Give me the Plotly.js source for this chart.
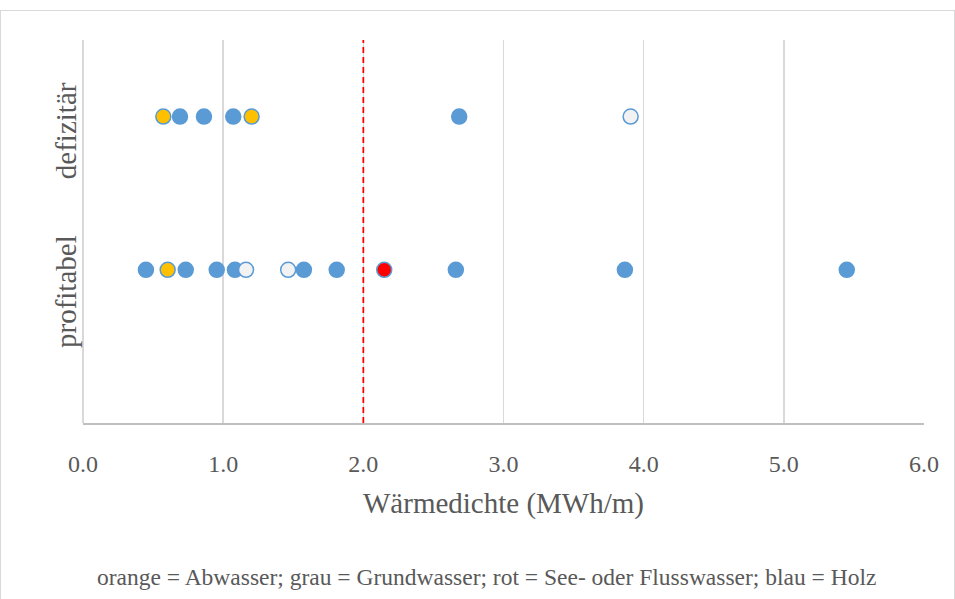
<!DOCTYPE html>
<html>
<head>
<meta charset="utf-8">
<script src="https://cdn.plot.ly/plotly-3.0.1.min.js"></script>
<style>
html,body{margin:0;padding:0;background:#fff;}
#wrap{position:relative;width:955px;height:599px;}
#chart{width:955px;height:599px;}
#frame{position:absolute;left:0;top:10px;width:953px;height:600px;border:1px solid #d9d9d9;pointer-events:none;}
</style>
</head>
<body>
<div id="wrap"><div id="chart"></div><div id="frame"></div></div>
<script>
// Categories (y positions of the two rows)
const categories = ["profitabel", "defizitär"];
const rowY = {"profitabel": 1, "defizitär": 2};

// Wärmedichte (MWh/m) per project, grouped by row and heat source
const defBlauX   = [0.692, 0.863, 1.072, 2.684];
const defOrangeX = [0.573, 1.203];
const defGrauX   = [3.907];

const proBlauX   = [0.449, 0.733, 0.954, 1.084, 1.576, 1.810, 2.660, 3.866, 5.449];
const proOrangeX = [0.604];
const proGrauX   = [1.163, 1.464];
const proRotX    = [2.149];

const thresholdX = [2.0, 2.0];
const thresholdY = [0, 2.58];

const xTicks = [0, 1, 2, 3, 4, 5, 6];
const xTickText = ["0.0", "1.0", "2.0", "3.0", "4.0", "5.0", "6.0"];

const footer = "orange = Abwasser; grau = Grundwasser; rot = See- oder Flusswasser; blau = Holz";
const xTitle = "Wärmedichte (MWh/m)";

const FONT = "'Liberation Serif', 'DejaVu Serif', serif";
const BLUE = "#5b9bd5";
const fills = {blau: BLUE, orange: "#ffc000", grau: "#f2f2f2", rot: "#ff0000"};

function pts(xs, cat, color) {
  return {
    type: "scatter", mode: "markers",
    x: xs, y: xs.map(() => rowY[cat]),
    marker: {size: 15, color: color, line: {color: BLUE, width: 1.5}},
    hoverinfo: "x", showlegend: false, cliponaxis: false
  };
}

const data = [
  {type: "scatter", mode: "lines", x: thresholdX, y: thresholdY,
   line: {color: "#ff0000", width: 1.75, dash: "6px,4px"},
   showlegend: false, cliponaxis: false, hoverinfo: "skip"},
  pts(proBlauX, "profitabel", fills.blau),
  pts(proOrangeX, "profitabel", fills.orange),
  pts(proGrauX, "profitabel", fills.grau),
  pts(proRotX, "profitabel", fills.rot),
  pts(defBlauX, "defizitär", fills.blau),
  pts(defOrangeX, "defizitär", fills.orange),
  pts(defGrauX, "defizitär", fills.grau)
];

const layout = {
  width: 955, height: 599,
  margin: {l: 83, r: 31, t: 40, b: 176},
  paper_bgcolor: "#ffffff", plot_bgcolor: "#ffffff",
  font: {family: FONT, color: "#595959"},
  showlegend: false,
  xaxis: {
    range: [0, 6], tickvals: xTicks, ticktext: xTickText,
    showgrid: true, gridcolor: "#d9d9d9", gridwidth: 1.5,
    zeroline: true, zerolinecolor: "#d9d9d9", zerolinewidth: 1.5,
    showline: true, linecolor: "#bfbfbf", linewidth: 1.5,
    ticks: "outside", ticklen: 19, tickcolor: "rgba(0,0,0,0)",
    tickfont: {family: FONT, size: 24, color: "#595959"},
    title: {text: xTitle, font: {family: FONT, size: 29, color: "#595959"}, standoff: 16},
    fixedrange: true
  },
  yaxis: {
    range: [0, 2.5], showgrid: false, zeroline: false, showline: false,
    showticklabels: false, ticks: "", fixedrange: true
  },
  annotations: [
    {text: categories[1], xref: "paper", yref: "paper", x: -0.0202, y: 0.762,
     textangle: -90, showarrow: false, xanchor: "center", yanchor: "middle",
     font: {family: FONT, size: 29, color: "#595959"}},
    {text: categories[0], xref: "paper", yref: "paper", x: -0.0202, y: 0.342,
     textangle: -90, showarrow: false, xanchor: "center", yanchor: "middle",
     font: {family: FONT, size: 29, color: "#595959"}},
    {text: footer, xref: "paper", yref: "paper", x: 0.48, y: -0.402,
     showarrow: false, xanchor: "center", yanchor: "middle",
     font: {family: FONT, size: 23.5, color: "#595959"}}
  ]
};

Plotly.newPlot("chart", data, layout, {displayModeBar: false, staticPlot: true});
</script>
</body>
</html>
